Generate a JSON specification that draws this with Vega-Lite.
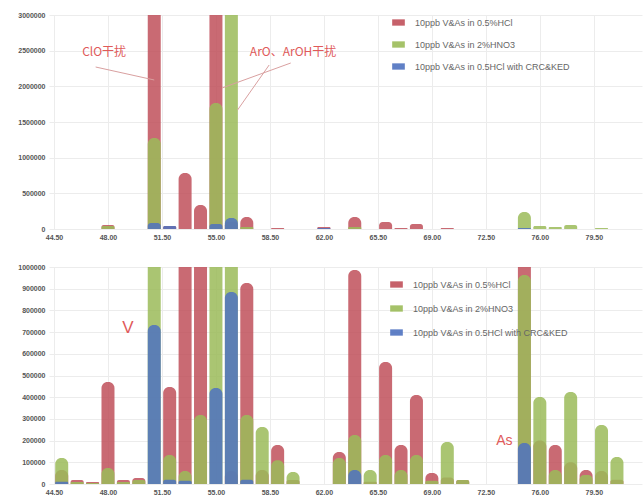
{
  "$schema": "https://vega.github.io/schema/vega-lite/v6.json",
  "padding": {"left": 17, "top": 11, "right": 3, "bottom": 2},
  "config": {
    "view": {"stroke": null},
    "font": "Liberation Sans",
    "axis": {"labelFontSize": 7, "labelFontWeight": "bold", "labelColor": "#555", "domain": false, "ticks": false, "gridColor": "#ececec", "title": null, "labelPadding": 4}
  },
  "spacing": 23,
  "resolve": {"legend": {"color": "independent"}, "scale": {"y": "independent"}},
  "datasets": {
    "top": [
      {"mz": 48, "series": "10ppb V&As in 0.5%HCl", "value": 56000},
      {"mz": 51, "series": "10ppb V&As in 0.5%HCl", "value": 5000000},
      {"mz": 52, "series": "10ppb V&As in 0.5%HCl", "value": 42000},
      {"mz": 53, "series": "10ppb V&As in 0.5%HCl", "value": 785000},
      {"mz": 54, "series": "10ppb V&As in 0.5%HCl", "value": 336000},
      {"mz": 55, "series": "10ppb V&As in 0.5%HCl", "value": 5000000},
      {"mz": 56, "series": "10ppb V&As in 0.5%HCl", "value": 100000},
      {"mz": 57, "series": "10ppb V&As in 0.5%HCl", "value": 168000},
      {"mz": 59, "series": "10ppb V&As in 0.5%HCl", "value": 14000},
      {"mz": 62, "series": "10ppb V&As in 0.5%HCl", "value": 28000},
      {"mz": 64, "series": "10ppb V&As in 0.5%HCl", "value": 168000},
      {"mz": 66, "series": "10ppb V&As in 0.5%HCl", "value": 98000},
      {"mz": 67, "series": "10ppb V&As in 0.5%HCl", "value": 14000},
      {"mz": 68, "series": "10ppb V&As in 0.5%HCl", "value": 70000},
      {"mz": 70, "series": "10ppb V&As in 0.5%HCl", "value": 14000},
      {"mz": 48, "series": "10ppb V&As in 2%HNO3", "value": 42000},
      {"mz": 51, "series": "10ppb V&As in 2%HNO3", "value": 1276000},
      {"mz": 55, "series": "10ppb V&As in 2%HNO3", "value": 1766000},
      {"mz": 56, "series": "10ppb V&As in 2%HNO3", "value": 5000000},
      {"mz": 57, "series": "10ppb V&As in 2%HNO3", "value": 28000},
      {"mz": 64, "series": "10ppb V&As in 2%HNO3", "value": 28000},
      {"mz": 75, "series": "10ppb V&As in 2%HNO3", "value": 238000},
      {"mz": 76, "series": "10ppb V&As in 2%HNO3", "value": 42000},
      {"mz": 77, "series": "10ppb V&As in 2%HNO3", "value": 28000},
      {"mz": 78, "series": "10ppb V&As in 2%HNO3", "value": 56000},
      {"mz": 80, "series": "10ppb V&As in 2%HNO3", "value": 14000},
      {"mz": 51, "series": "10ppb V&As in 0.5HCl with CRC&KED", "value": 84000},
      {"mz": 52, "series": "10ppb V&As in 0.5HCl with CRC&KED", "value": 42000},
      {"mz": 55, "series": "10ppb V&As in 0.5HCl with CRC&KED", "value": 70000},
      {"mz": 56, "series": "10ppb V&As in 0.5HCl with CRC&KED", "value": 154000},
      {"mz": 62, "series": "10ppb V&As in 0.5HCl with CRC&KED", "value": 14000},
      {"mz": 75, "series": "10ppb V&As in 0.5HCl with CRC&KED", "value": 14000}
    ],
    "bottom": [
      {"mz": 45, "series": "10ppb V&As in 0.5%HCl", "value": 64500},
      {"mz": 46, "series": "10ppb V&As in 0.5%HCl", "value": 18400},
      {"mz": 47, "series": "10ppb V&As in 0.5%HCl", "value": 9200},
      {"mz": 48, "series": "10ppb V&As in 0.5%HCl", "value": 470000},
      {"mz": 49, "series": "10ppb V&As in 0.5%HCl", "value": 18400},
      {"mz": 50, "series": "10ppb V&As in 0.5%HCl", "value": 27600},
      {"mz": 52, "series": "10ppb V&As in 0.5%HCl", "value": 447000},
      {"mz": 53, "series": "10ppb V&As in 0.5%HCl", "value": 3000000},
      {"mz": 54, "series": "10ppb V&As in 0.5%HCl", "value": 3000000},
      {"mz": 56, "series": "10ppb V&As in 0.5%HCl", "value": 60000},
      {"mz": 57, "series": "10ppb V&As in 0.5%HCl", "value": 926000},
      {"mz": 58, "series": "10ppb V&As in 0.5%HCl", "value": 64500},
      {"mz": 59, "series": "10ppb V&As in 0.5%HCl", "value": 180000},
      {"mz": 60, "series": "10ppb V&As in 0.5%HCl", "value": 18400},
      {"mz": 63, "series": "10ppb V&As in 0.5%HCl", "value": 147000},
      {"mz": 64, "series": "10ppb V&As in 0.5%HCl", "value": 986000},
      {"mz": 65, "series": "10ppb V&As in 0.5%HCl", "value": 10000},
      {"mz": 66, "series": "10ppb V&As in 0.5%HCl", "value": 562000},
      {"mz": 67, "series": "10ppb V&As in 0.5%HCl", "value": 180000},
      {"mz": 68, "series": "10ppb V&As in 0.5%HCl", "value": 410000},
      {"mz": 69, "series": "10ppb V&As in 0.5%HCl", "value": 50700},
      {"mz": 70, "series": "10ppb V&As in 0.5%HCl", "value": 30000},
      {"mz": 71, "series": "10ppb V&As in 0.5%HCl", "value": 18000},
      {"mz": 75, "series": "10ppb V&As in 0.5%HCl", "value": 3000000},
      {"mz": 76, "series": "10ppb V&As in 0.5%HCl", "value": 200000},
      {"mz": 77, "series": "10ppb V&As in 0.5%HCl", "value": 180000},
      {"mz": 78, "series": "10ppb V&As in 0.5%HCl", "value": 100000},
      {"mz": 79, "series": "10ppb V&As in 0.5%HCl", "value": 64500},
      {"mz": 80, "series": "10ppb V&As in 0.5%HCl", "value": 60000},
      {"mz": 81, "series": "10ppb V&As in 0.5%HCl", "value": 20000},
      {"mz": 45, "series": "10ppb V&As in 2%HNO3", "value": 120000},
      {"mz": 46, "series": "10ppb V&As in 2%HNO3", "value": 9000},
      {"mz": 47, "series": "10ppb V&As in 2%HNO3", "value": 5000},
      {"mz": 48, "series": "10ppb V&As in 2%HNO3", "value": 73700},
      {"mz": 49, "series": "10ppb V&As in 2%HNO3", "value": 9000},
      {"mz": 50, "series": "10ppb V&As in 2%HNO3", "value": 18400},
      {"mz": 51, "series": "10ppb V&As in 2%HNO3", "value": 3000000},
      {"mz": 52, "series": "10ppb V&As in 2%HNO3", "value": 134000},
      {"mz": 53, "series": "10ppb V&As in 2%HNO3", "value": 60000},
      {"mz": 54, "series": "10ppb V&As in 2%HNO3", "value": 318000},
      {"mz": 55, "series": "10ppb V&As in 2%HNO3", "value": 3000000},
      {"mz": 56, "series": "10ppb V&As in 2%HNO3", "value": 3000000},
      {"mz": 57, "series": "10ppb V&As in 2%HNO3", "value": 318000},
      {"mz": 58, "series": "10ppb V&As in 2%HNO3", "value": 263000},
      {"mz": 59, "series": "10ppb V&As in 2%HNO3", "value": 110000},
      {"mz": 60, "series": "10ppb V&As in 2%HNO3", "value": 55000},
      {"mz": 63, "series": "10ppb V&As in 2%HNO3", "value": 120000},
      {"mz": 64, "series": "10ppb V&As in 2%HNO3", "value": 226000},
      {"mz": 65, "series": "10ppb V&As in 2%HNO3", "value": 64500},
      {"mz": 66, "series": "10ppb V&As in 2%HNO3", "value": 134000},
      {"mz": 67, "series": "10ppb V&As in 2%HNO3", "value": 64500},
      {"mz": 68, "series": "10ppb V&As in 2%HNO3", "value": 134000},
      {"mz": 69, "series": "10ppb V&As in 2%HNO3", "value": 15000},
      {"mz": 70, "series": "10ppb V&As in 2%HNO3", "value": 194000},
      {"mz": 71, "series": "10ppb V&As in 2%HNO3", "value": 18000},
      {"mz": 75, "series": "10ppb V&As in 2%HNO3", "value": 963000},
      {"mz": 76, "series": "10ppb V&As in 2%HNO3", "value": 401000},
      {"mz": 77, "series": "10ppb V&As in 2%HNO3", "value": 64500},
      {"mz": 78, "series": "10ppb V&As in 2%HNO3", "value": 424000},
      {"mz": 79, "series": "10ppb V&As in 2%HNO3", "value": 41000},
      {"mz": 80, "series": "10ppb V&As in 2%HNO3", "value": 272000},
      {"mz": 81, "series": "10ppb V&As in 2%HNO3", "value": 124000},
      {"mz": 45, "series": "10ppb V&As in 0.5HCl with CRC&KED", "value": 10000},
      {"mz": 51, "series": "10ppb V&As in 0.5HCl with CRC&KED", "value": 733000},
      {"mz": 52, "series": "10ppb V&As in 0.5HCl with CRC&KED", "value": 20000},
      {"mz": 53, "series": "10ppb V&As in 0.5HCl with CRC&KED", "value": 15000},
      {"mz": 55, "series": "10ppb V&As in 0.5HCl with CRC&KED", "value": 442000},
      {"mz": 56, "series": "10ppb V&As in 0.5HCl with CRC&KED", "value": 885000},
      {"mz": 57, "series": "10ppb V&As in 0.5HCl with CRC&KED", "value": 20000},
      {"mz": 64, "series": "10ppb V&As in 0.5HCl with CRC&KED", "value": 64500},
      {"mz": 75, "series": "10ppb V&As in 0.5HCl with CRC&KED", "value": 189000}
    ],
    "topNotes": [
      {"mz": 47.75, "value": 2481000, "label": "ClO干扰"},
      {"mz": 60.0, "value": 2481000, "label": "ArO、ArOH干扰"}
    ],
    "topLines": [
      {"mz": 47.2, "value": 2271000, "mz2": 51.0, "value2": 2089000},
      {"mz": 59.85, "value": 2327000, "mz2": 55.4, "value2": 1977000},
      {"mz": 58.45, "value": 2299000, "mz2": 56.4, "value2": 1668000}
    ],
    "bottomNotes": [
      {"mz": 49.3, "value": 720000, "label": "V", "size": 17},
      {"mz": 73.7, "value": 198000, "label": "As", "size": 14}
    ]
  },
  "vconcat": [
    {
      "width": 593,
      "height": 214,
      "encoding": {
        "x": {"field": "mz", "type": "quantitative", "scale": {"domain": [44.5, 82.3], "nice": false, "zero": false},
              "axis": {"values": [44.5, 48, 51.5, 55, 58.5, 62, 65.5, 69, 72.5, 76, 79.5], "format": ".2f", "grid": true, "labelOverlap": false}},
        "y": {"field": "value", "type": "quantitative", "stack": null, "scale": {"domain": [0, 3000000], "nice": false},
              "axis": {"values": [0, 500000, 1000000, 1500000, 2000000, 2500000, 3000000], "format": "d", "grid": true, "labelOverlap": false}}
      },
      "layer": [
        {
          "data": {"name": "top"},
          "mark": {"type": "bar", "size": 13, "clip": true, "opacity": 0.85, "cornerRadiusTopLeft": 6, "cornerRadiusTopRight": 6},
          "encoding": {
            "color": {"field": "series", "type": "nominal",
                      "scale": {"domain": ["10ppb V&As in 0.5%HCl", "10ppb V&As in 2%HNO3", "10ppb V&As in 0.5HCl with CRC&KED"], "range": ["#c0505a", "#9bbb59", "#4f72c0"]},
                      "legend": {"title": null, "orient": "none", "legendX": 343, "legendY": 1, "symbolType": "M-1,-0.5H1V0.5H-1Z", "symbolSize": 160, "symbolStrokeWidth": 0, "symbolOpacity": 0.9, "labelFontSize": 9, "labelColor": "#666", "labelOffset": 10, "rowPadding": 10, "labelFont": "Liberation Sans"}}
          }
        },
        {
          "data": {"name": "topLines"},
          "mark": {"type": "rule", "color": "#d9a0a0", "strokeWidth": 1},
          "encoding": {
            "x2": {"field": "mz2"},
            "y2": {"field": "value2"}
          }
        },
        {
          "data": {"name": "topNotes"},
          "mark": {"type": "text", "color": "#e05a5a", "fontSize": 12, "font": "Noto Sans CJK SC", "align": "center", "baseline": "middle"},
          "encoding": {
            "text": {"field": "label"}
          }
        }
      ]
    },
    {
      "width": 593,
      "height": 217,
      "encoding": {
        "x": {"field": "mz", "type": "quantitative", "scale": {"domain": [44.5, 82.3], "nice": false, "zero": false},
              "axis": {"values": [44.5, 48, 51.5, 55, 58.5, 62, 65.5, 69, 72.5, 76, 79.5], "format": ".2f", "grid": true, "labelOverlap": false}},
        "y": {"field": "value", "type": "quantitative", "stack": null, "scale": {"domain": [0, 1000000], "nice": false},
              "axis": {"values": [0, 100000, 200000, 300000, 400000, 500000, 600000, 700000, 800000, 900000, 1000000], "format": "d", "grid": true, "labelOverlap": false}}
      },
      "layer": [
        {
          "data": {"name": "bottom"},
          "mark": {"type": "bar", "size": 13, "clip": true, "opacity": 0.85, "cornerRadiusTopLeft": 6, "cornerRadiusTopRight": 6},
          "encoding": {
            "color": {"field": "series", "type": "nominal",
                      "scale": {"domain": ["10ppb V&As in 0.5%HCl", "10ppb V&As in 2%HNO3", "10ppb V&As in 0.5HCl with CRC&KED"], "range": ["#c0505a", "#9bbb59", "#4f72c0"]},
                      "legend": {"title": null, "orient": "none", "legendX": 341, "legendY": 11, "symbolType": "M-1,-0.5H1V0.5H-1Z", "symbolSize": 160, "symbolStrokeWidth": 0, "symbolOpacity": 0.9, "labelFontSize": 9, "labelColor": "#666", "labelOffset": 10, "rowPadding": 12, "labelFont": "Liberation Sans"}}
          }
        },
        {
          "data": {"name": "bottomNotes"},
          "mark": {"type": "text", "color": "#e05a5a", "font": "Liberation Sans", "align": "center", "baseline": "middle"},
          "encoding": {
            "text": {"field": "label"},
            "size": {"field": "size", "type": "quantitative", "scale": null}
          }
        }
      ]
    }
  ]
}
